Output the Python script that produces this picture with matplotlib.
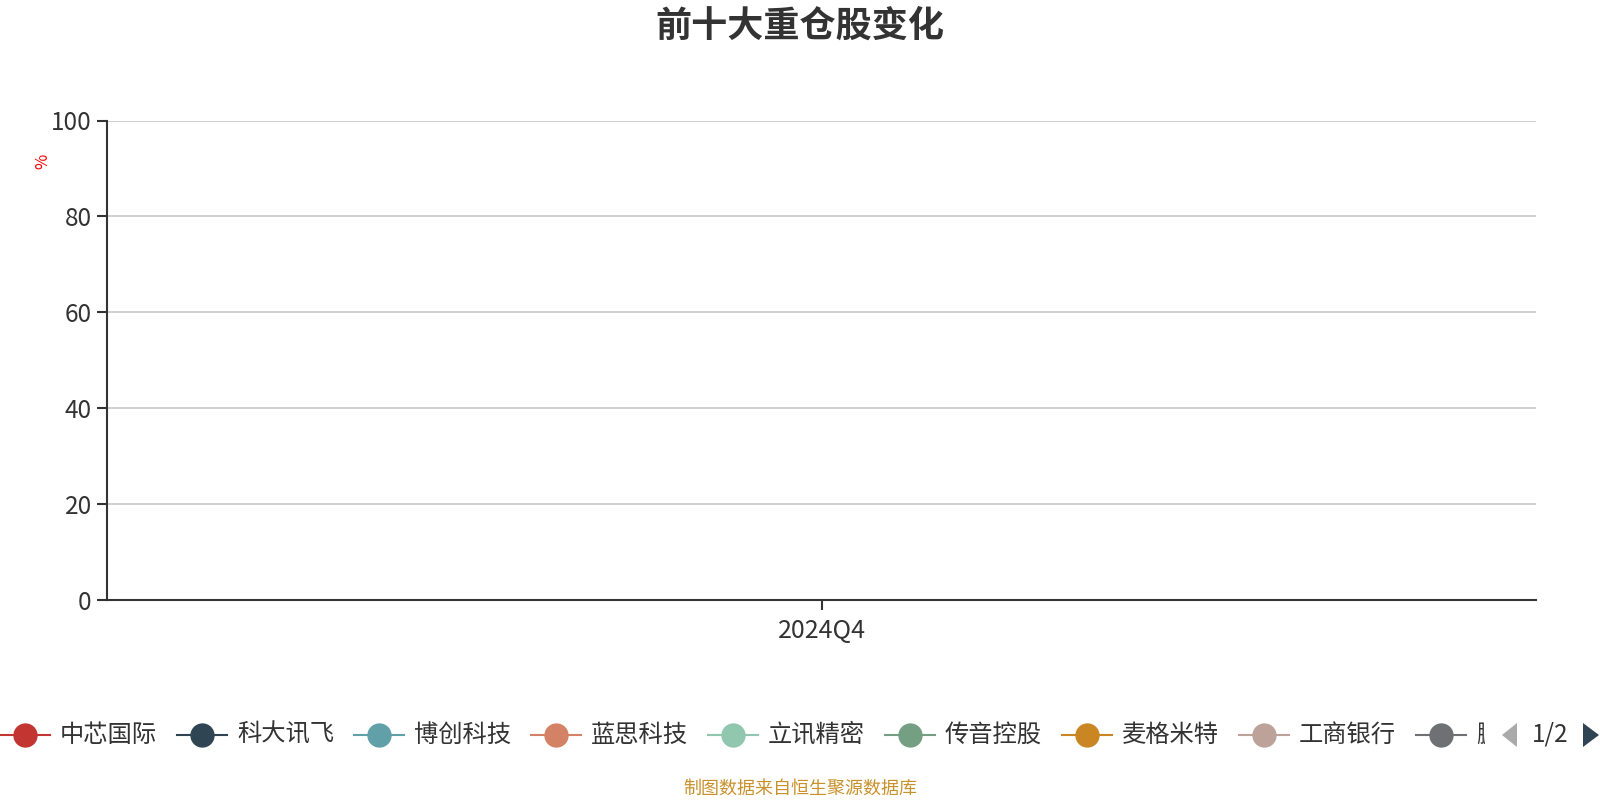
import numpy as np
import matplotlib
matplotlib.use("Agg")
import matplotlib.pyplot as plt
from matplotlib.lines import Line2D
from matplotlib.patches import Polygon, Rectangle

plt.rcParams['font.family'] = ['Noto Sans CJK SC', 'DejaVu Sans']

# ---- data ----
title = "前十大重仓股变化"
periods = ["2024Q4"]
stocks = ["中芯国际", "科大讯飞", "博创科技", "蓝思科技", "立讯精密",
          "传音控股", "麦格米特", "工商银行", "鹏鼎控股"]
colors = ["#c23531", "#2f4554", "#61a0a8", "#d48265", "#91c7ae",
          "#749f83", "#ca8622", "#bda29a", "#6e7074"]
# no holdings values shown for the period (chart is empty)
values = {s: [np.nan] for s in stocks}
yticks = [0, 20, 40, 60, 80, 100]
source = "制图数据来自恒生聚源数据库"
page_text = "1/2"

W, H = 1600, 800
fig = plt.figure(figsize=(16, 8), dpi=100)
fig.patch.set_facecolor("white")

def fx(px):
    return px / W

def fy(py):
    return 1 - py / H

ax = fig.add_axes([fx(107), fy(600), fx(1536) - fx(107), fy(120.5) - fy(600)])
x = np.arange(len(periods))
for s, c in zip(stocks, colors):
    ax.plot(x, values[s], color=c, marker="o", markersize=8, linewidth=1.5)

ax.set_xlim(-0.5, len(periods) - 0.5)
ax.set_ylim(0, 100)
ax.set_yticks(yticks)
ax.set_yticklabels([str(v) for v in yticks])
ax.set_xticks(x)
ax.set_xticklabels(periods)
ax.grid(axis="y", color="#c4c4c4", linewidth=1.1)
ax.set_axisbelow(True)
for sp in ["top", "right"]:
    ax.spines[sp].set_visible(False)
for sp in ["left", "bottom"]:
    ax.spines[sp].set_color("#333333")
    ax.spines[sp].set_linewidth(1.5)
ax.tick_params(axis="both", colors="#333333", labelcolor="#333333",
               labelsize=17.5, length=7, width=1.5, pad=4)
ax.tick_params(axis="x", labelsize=18, pad=6)

# y unit label
fig.text(fx(43), fy(161), "%", color="red", fontsize=12, rotation=90,
         ha="center", va="center")

# title
fig.text(0.5, fy(26), title, fontsize=26, fontweight="bold", color="#333333",
         ha="center", va="center")

# legend (manual, echarts-like, scrolled page 1/2)
ly = fy(735)
step = 177
clip_right = 1485
for i, (s, c) in enumerate(zip(stocks, colors)):
    x0 = i * step
    fig.add_artist(Line2D([fx(x0), fx(x0 + 50)], [ly, ly], color=c,
                          linewidth=1.5, transform=fig.transFigure))
    fig.add_artist(Line2D([fx(x0 + 25)], [ly], color=c, marker="o",
                          markersize=16.5, linestyle="none",
                          transform=fig.transFigure))
    label = s
    if x0 + 60 + 100 > clip_right:
        label = s[0]  # only the start of this item is visible
    t = fig.text(fx(x0 + 60), ly, label, fontsize=17.5, color="#333333",
                 ha="left", va="center")
    if label != s:
        clip = Rectangle((0, 0), fx(clip_right), 1, transform=fig.transFigure)
        t.set_clip_path(clip)

# pagination arrows
fig.add_artist(Polygon([[fx(1517), fy(723)], [fx(1517), fy(747)],
                        [fx(1502), fy(735)]], closed=True,
                       facecolor="#aaaaaa", edgecolor="none",
                       transform=fig.transFigure))
fig.text(fx(1550), ly, page_text, fontsize=17.5, color="#333333",
         ha="center", va="center")
fig.add_artist(Polygon([[fx(1583), fy(723)], [fx(1583), fy(747)],
                        [fx(1599), fy(735)]], closed=True,
                       facecolor="#2f4554", edgecolor="none",
                       transform=fig.transFigure))

# source note
fig.text(0.5, fy(789), source, fontsize=13, color="#c9912c",
         ha="center", va="center")

fig.savefig("out.png", dpi=100)
